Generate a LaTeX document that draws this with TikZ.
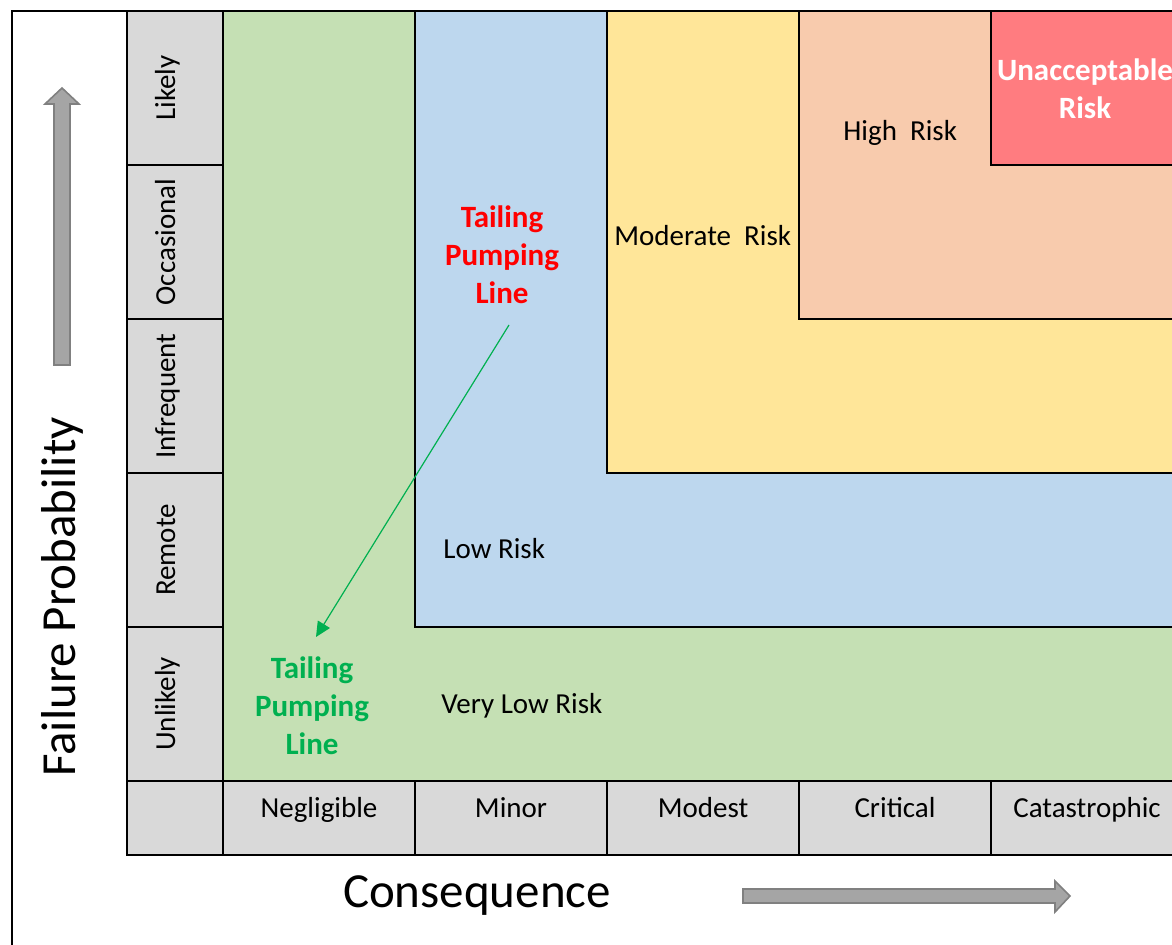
\documentclass[tikz,border=0pt]{standalone}
\usepackage{fontspec}
\setmainfont{Carlito}
\usetikzlibrary{arrows.meta}

\definecolor{cellGray}{RGB}{217,217,217}
\definecolor{arrowGray}{RGB}{165,165,165}
\definecolor{arrowEdge}{RGB}{128,128,128}
\definecolor{riskGreen}{RGB}{197,224,180}
\definecolor{riskBlue}{RGB}{189,215,238}
\definecolor{riskYellow}{RGB}{255,230,153}
\definecolor{riskOrange}{RGB}{248,203,173}
\definecolor{riskRed}{RGB}{255,124,128}
\definecolor{lineRed}{RGB}{255,0,0}
\definecolor{lineGreen}{RGB}{0,176,80}

\def\cellWidth{192}
\def\cellHeight{154}
\def\gridLeft{127}
\def\gridTop{11}
\def\farRight{1200}

\begin{document}
\begin{tikzpicture}[x=0.5pt, y=-0.5pt,
    zone/.style = {draw=black, line width=1.1pt},
    gridline/.style = {black, line width=1.1pt},
    cellText/.style = {font=\fontsize{14.5}{17}\selectfont, inner sep=0pt},
    rowText/.style = {cellText, rotate=90, anchor=base},
    colText/.style = {cellText, anchor=base},
    riskText/.style = {cellText, anchor=west},
    pipeText/.style = {font=\fontsize{15.5}{19}\selectfont\bfseries, align=center, inner sep=0pt},
    axisText/.style = {font=\fontsize{24.5}{28}\selectfont, inner sep=0pt},
    bigArrow/.style = {fill=arrowGray, draw=arrowEdge, line width=0.8pt}
    ]
            \useasboundingbox (0,0) rectangle (1172,945);
            \clip (0,0) rectangle (1172,945);
            \fill [cellGray]
            (\gridLeft,\gridTop) coordinate (origin)
            (origin) rectangle ++(96,844)
            (origin) ++(96,770) rectangle (\farRight,855)
            ;
            \fill [riskGreen] (223,\gridTop) rectangle (\farRight,781);
            \draw [zone, fill=riskBlue] (415,\gridTop) rectangle (\farRight,627);
            \draw [zone, fill=riskYellow] (607,\gridTop) rectangle (\farRight,473);
            \draw [zone, fill=riskOrange] (799,\gridTop) rectangle (\farRight,319);
            \draw [zone, fill=riskRed] (991,\gridTop) rectangle (\farRight,165);
            \draw [gridline]
            (12,945) -- (12,\gridTop) -- (\farRight,\gridTop)
            (origin) -- ++(0,844) -- (\farRight,855)
            (origin) ++(96,0) -- ++(0,844)
            (223,781) -- (\farRight,781)
            ;
            \foreach \i in {1,...,5}
                \draw [gridline] (\gridLeft,{\gridTop+\i*\cellHeight}) -- ++(96,0);
            \foreach \i in {1,...,4}
                \draw [gridline] ({223+\i*\cellWidth},781) -- ++(0,74);

            \foreach \lbl [count=\i] in {Likely,Occasional,Infrequent,Remote,Unlikely}
                \node [rowText] (row\i) at (175,{\gridTop+(\i-0.5)*\cellHeight}) {\lbl};
            \foreach \lbl [count=\i] in {Negligible,Minor,Modest,Critical,Catastrophic}
                \node [colText] (col\i) at ({223+(\i-0.5)*\cellWidth},817) {\lbl};

            \node [riskText] (veryLow) at (441,706) {Very Low Risk};
            \node [riskText] (low) at (443,549) {Low Risk};
            \node [riskText] (moderate) at (614,236) {Moderate\ \ Risk};
            \node [riskText] (high) at (843,133) {High\ \ Risk};
            \node [pipeText, text=white] (unacceptable) at (1085,89) {Unacceptable\\Risk};

            \node [pipeText, text=lineRed] (pipeBefore) at (502,255) {Tailing\\Pumping\\Line};
            \node [pipeText, text=lineGreen] (pipeAfter) at (312,706) {Tailing\\Pumping\\Line};
            \coordinate (pipeFrom) at (509,325);
            \coordinate (pipeTo) at (316,637);
            \draw [lineGreen, line width=0.6pt, -{Triangle[length=7.5pt, width=7pt]}]
            (pipeFrom) -- (pipeTo)
            ;

            \draw [bigArrow]
            (54,365) -- (54,104) -- (45,104) -- (62,88) -- (79,104) -- (70,104) -- (70,365) -- cycle
            (743,889) -- (1055,889) -- (1055,881) -- (1070,896) -- (1055,912) -- (1055,903) -- (743,903) -- cycle
            ;
            \node [axisText] (consequence) at (477,896) {Consequence};
            \node [axisText, rotate=90] (probability) at (62,597) {Failure Probability};
        \end{tikzpicture}
\end{document}
